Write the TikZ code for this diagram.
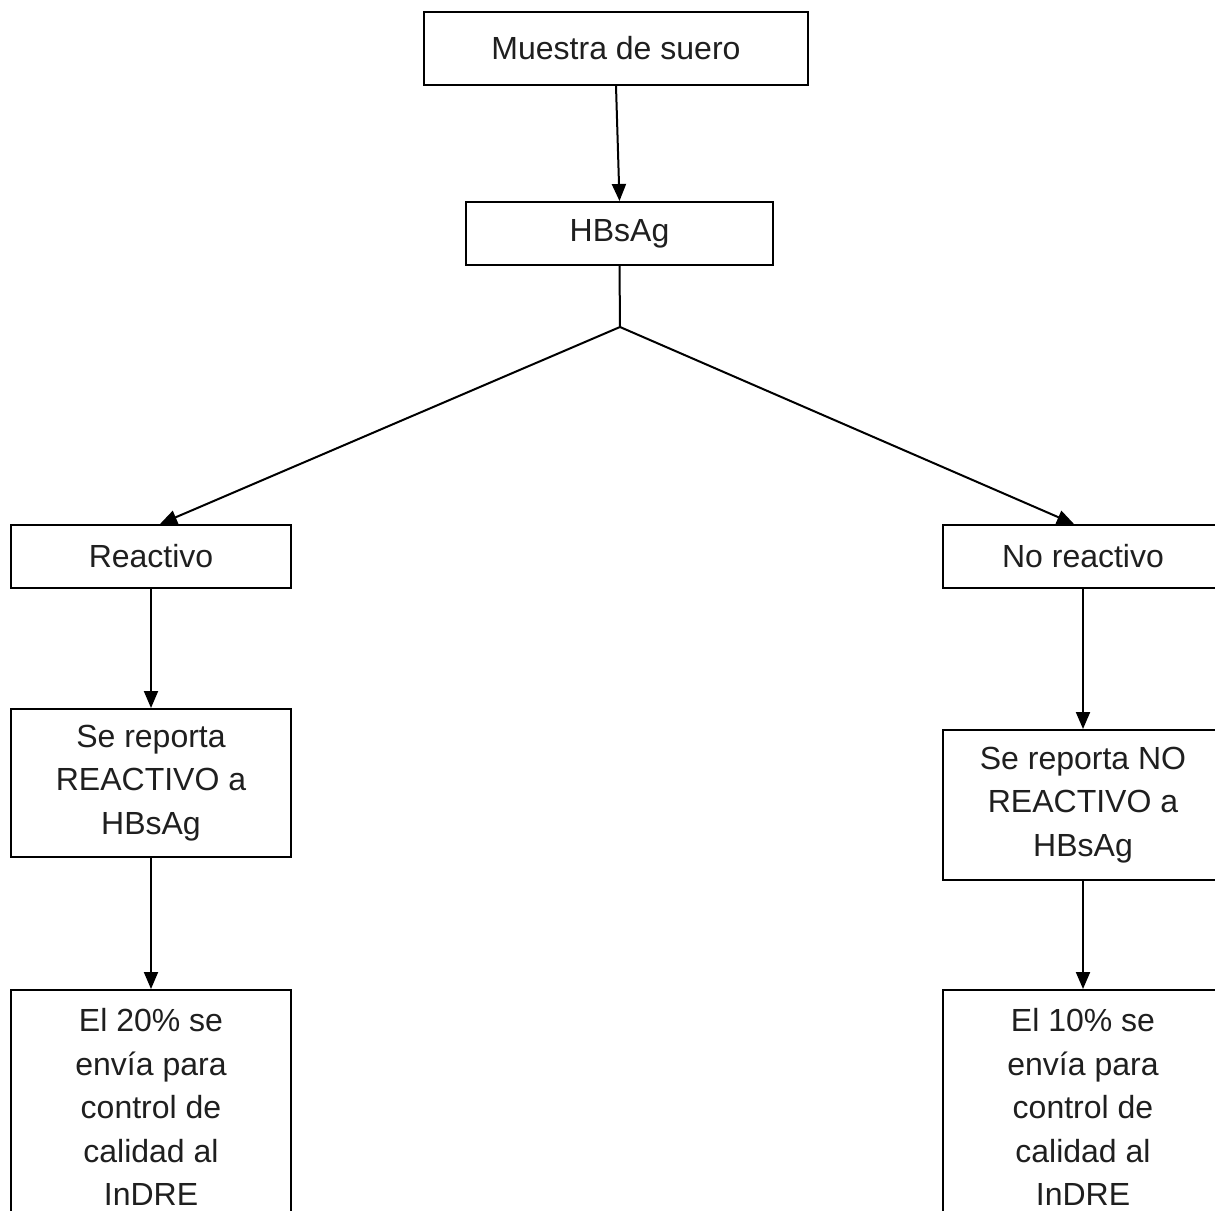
\documentclass[tikz,border=0pt]{standalone}
\usepackage{fontspec}
\setmainfont{Liberation Sans}
\usetikzlibrary{arrows.meta}
\begin{document}
\begin{tikzpicture}[x=1pt,y=-1pt,
  box/.style={draw=black,line width=2pt,fill=white,rectangle,inner sep=0pt,
    align=center,text=black!88,font=\fontsize{32}{43.5}\selectfont},
  link/.style={draw=black,line width=2pt},
  arr/.style={link,-{Triangle[length=17pt,width=14pt]}}]
\useasboundingbox (0,0) rectangle (1215,1210);
\clip (0,0) rectangle (1215,1210);

% top of the chart
\node[box,minimum width=384pt,minimum height=73pt] (muestra) at (616,48.5) {Muestra de suero};
\node[box,minimum width=307pt,minimum height=63pt] (hbs) at (619.5,233.5) {HBsAg};

% results
\node[box,minimum width=280pt,minimum height=63pt] (reac) at (151,556.5) {Reactivo};
\node[box,minimum width=280pt,minimum height=63pt] (noreac) at (1083,556.5) {No reactivo};

% reports
\node[box,minimum width=280pt,minimum height=148pt] (repr) at (151,783) {Se reporta\\REACTIVO a\\HBsAg};
\node[box,minimum width=280pt,minimum height=150pt] (repn) at (1083,805) {Se reporta NO\\REACTIVO a\\HBsAg};

% quality control
\node[box,minimum width=280pt,minimum height=234pt] (ctlr) at (151,1107) {El 20\% se\\envía para\\control de\\calidad al\\InDRE};
\node[box,minimum width=280pt,minimum height=234pt] (ctln) at (1083,1107) {El 10\% se\\envía para\\control de\\calidad al\\InDRE};

% connectors
\coordinate (split) at (620,327);
\draw[arr] (muestra.south) -- (hbs.north);
\draw[link] (hbs.south) -- (split);
\draw[arr] (split) -- ([xshift=9pt]reac.north);
\draw[arr] (split) -- ([xshift=-9pt]noreac.north);
\draw[arr] (reac.south) -- (repr.north);
\draw[arr] (noreac.south) -- (repn.north);
\draw[arr] (repr.south) -- (ctlr.north);
\draw[arr] (repn.south) -- (ctln.north);
\end{tikzpicture}
\end{document}
